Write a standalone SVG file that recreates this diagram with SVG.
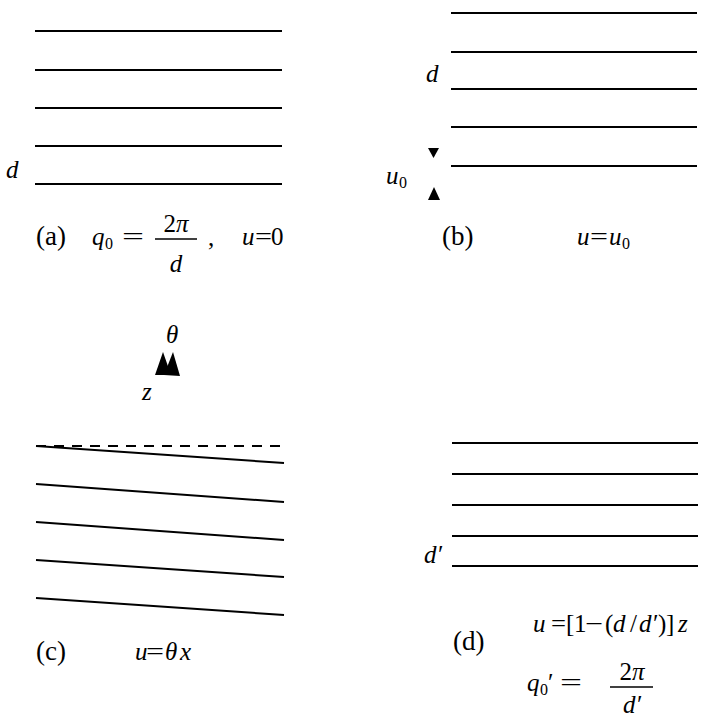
<svg xmlns="http://www.w3.org/2000/svg" width="708" height="717" viewBox="0 0 708 717">
<style>
.ln{stroke:#000;stroke-width:2;fill:none}
.ds{stroke:#000;stroke-width:2;fill:none;stroke-dasharray:10,8}
.bar{stroke:#000;stroke-width:1.3}
.t{font-family:"Liberation Serif","DejaVu Serif",serif;font-size:25px;fill:#000}
.c{font-size:27px}
.i{font-style:italic}
.s{font-size:16px;font-style:normal}
.ah{fill:#000}
</style>
<rect width="708" height="717" fill="#fff"/>
<g id="connectors">
  <polygon class="ah" points="428,148 439,148 433.5,158"/>
  <polygon class="ah" points="428,200 440,200 434,187"/>
  <polygon class="ah" points="155,375 171,375 163,352"/>
  <polygon class="ah" points="164,375 180,376 173,352"/>
</g>
<g id="panel-a">
  <line class="ln" x1="35" y1="31" x2="282" y2="31"/>
  <line class="ln" x1="35" y1="70" x2="282" y2="70"/>
  <line class="ln" x1="35" y1="108" x2="282" y2="108"/>
  <line class="ln" x1="35" y1="146" x2="282" y2="146"/>
  <line class="ln" x1="35" y1="184" x2="282" y2="184"/>
  <text class="t i" x="6" y="178">d</text>
  <text class="t c" x="36" y="245">(a)</text>
  <text class="t i" x="92" y="245">q</text>
  <text class="t s" x="105" y="249">0</text>
  <text class="t" x="122" y="245" textLength="22" lengthAdjust="spacingAndGlyphs">=</text>
  <text class="t" x="176" y="232" text-anchor="middle">2<tspan class="i">π</tspan></text>
  <line class="bar" x1="155" y1="239" x2="197" y2="239"/>
  <text class="t i" x="176" y="272" text-anchor="middle">d</text>
  <text class="t" x="208" y="246">,</text>
  <text class="t i" x="242" y="245">u</text>
  <text class="t" x="255" y="245" textLength="17" lengthAdjust="spacingAndGlyphs">=</text>
  <text class="t" x="271" y="245">0</text>
</g>
<g id="panel-b">
  <line class="ln" x1="451" y1="13" x2="697" y2="13"/>
  <line class="ln" x1="451" y1="52" x2="697" y2="52"/>
  <line class="ln" x1="451" y1="89" x2="697" y2="89"/>
  <line class="ln" x1="451" y1="127" x2="697" y2="127"/>
  <line class="ln" x1="451" y1="166" x2="697" y2="166"/>
  <text class="t i" x="426" y="82">d</text>
  <text class="t i" x="386" y="184">u</text>
  <text class="t s" x="399" y="188">0</text>
  <text class="t c" x="442" y="245">(b)</text>
  <text class="t i" x="577" y="245">u</text>
  <text class="t" x="590" y="245" textLength="18" lengthAdjust="spacingAndGlyphs">=</text>
  <text class="t i" x="609" y="245">u</text>
  <text class="t s" x="622" y="249">0</text>
</g>
<g id="panel-c">
  <text class="t i" x="166" y="343">θ</text>
  <text class="t i" x="142" y="400">z</text>
  <line class="ds" x1="36" y1="446" x2="284" y2="446"/>
  <line class="ln" x1="36" y1="446" x2="284" y2="463"/>
  <line class="ln" x1="36" y1="484" x2="284" y2="502"/>
  <line class="ln" x1="36" y1="522" x2="284" y2="540"/>
  <line class="ln" x1="36" y1="560" x2="284" y2="577"/>
  <line class="ln" x1="36" y1="598" x2="284" y2="615"/>
  <text class="t c" x="36" y="660">(c)</text>
  <text class="t i" x="135" y="660">u</text>
  <text class="t" x="146" y="660" textLength="18" lengthAdjust="spacingAndGlyphs">=</text>
  <text class="t i" x="165" y="660">θ</text>
  <text class="t i" x="180" y="660">x</text>
</g>
<g id="panel-d">
  <line class="ln" x1="452" y1="443" x2="698" y2="443"/>
  <line class="ln" x1="452" y1="474" x2="698" y2="474"/>
  <line class="ln" x1="452" y1="505" x2="698" y2="505"/>
  <line class="ln" x1="452" y1="536" x2="698" y2="536"/>
  <line class="ln" x1="452" y1="566" x2="698" y2="566"/>
  <text class="t i" x="424" y="563">d′</text>
  <text class="t c" x="453" y="650">(d)</text>
  <text class="t i" x="533" y="632">u</text>
  <text class="t" x="551" y="632" textLength="15" lengthAdjust="spacingAndGlyphs">=</text>
  <text class="t" x="566" y="632">[</text>
  <text class="t" x="574" y="632">1</text>
  <text class="t" x="585" y="632" textLength="18" lengthAdjust="spacingAndGlyphs">−</text>
  <text class="t" x="605" y="632">(</text>
  <text class="t i" x="613" y="632">d</text>
  <text class="t" x="630" y="632">/</text>
  <text class="t i" x="639" y="632">d′</text>
  <text class="t" x="658" y="632">)</text>
  <text class="t" x="666" y="632">]</text>
  <text class="t i" x="678" y="632">z</text>
  <text class="t i" x="527" y="691">q</text>
  <text class="t s" x="540" y="695">0</text>
  <text class="t" x="548" y="691">′</text>
  <text class="t" x="560" y="691" textLength="22" lengthAdjust="spacingAndGlyphs">=</text>
  <text class="t" x="632" y="680" text-anchor="middle">2<tspan class="i">π</tspan></text>
  <line class="bar" x1="610" y1="687" x2="653" y2="687"/>
  <text class="t i" x="632" y="713" text-anchor="middle">d′</text>
</g>
</svg>
